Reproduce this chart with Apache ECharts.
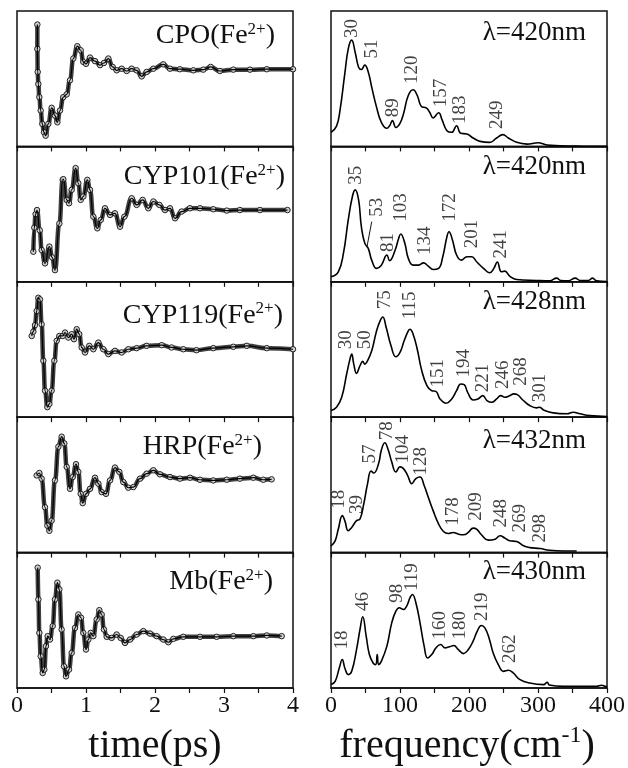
<!DOCTYPE html>
<html><head><meta charset="utf-8">
<script src="https://cdn.jsdelivr.net/npm/echarts@6/dist/echarts.min.js"></script>
<style>html,body{margin:0;padding:0;background:#fff}#c{width:628px;height:768px}</style>
</head><body><div id="c"></div><script>
// Coherent-oscillation traces (time in ps, normalised signal 0-100)
const cpoTrace = [[0.295,90],[0.295,72],[0.30,55],[0.309,46],[0.324,36.4],[0.343,26.5],[0.367,16.6],[0.391,10.4],[0.415,7.9],[0.454,16.6],[0.502,28.5],[0.55,22.8],[0.585,17.8],[0.623,26.5],[0.671,36.4],[0.72,38.4],[0.768,48.8],[0.816,64.9],[0.874,74],[0.923,71],[0.961,62.4],[1.0,61],[1.058,65.6],[1.13,63],[1.203,60],[1.26,61.6],[1.324,64.9],[1.386,58.7],[1.444,56.2],[1.517,57.4],[1.589,55.7],[1.662,57.4],[1.734,56.2],[1.807,51.7],[1.879,55],[1.976,57.4],[2.12,60.6],[2.217,57.4],[2.36,57],[2.556,56.2],[2.70,56.7],[2.807,58.7],[2.94,55.7],[3.135,56.7],[3.377,56.7],[3.62,57],[4.0,57]];
const cyp101Trace = [[0.237,22.2],[0.25,40],[0.27,50],[0.29,53],[0.33,38],[0.357,23.5],[0.406,13.6],[0.469,26],[0.51,18],[0.55,8.6],[0.614,43],[0.662,75.3],[0.671,75.8],[0.72,60.5],[0.754,58],[0.792,67.9],[0.85,84],[0.889,72.8],[0.923,60.5],[0.961,63],[1.019,75.3],[1.058,67.9],[1.106,48.1],[1.164,39.5],[1.213,45.7],[1.275,54.3],[1.348,49.4],[1.42,50.6],[1.493,40.7],[1.556,48.1],[1.662,61.7],[1.734,56.8],[1.821,60.5],[1.903,54.3],[1.976,59.3],[2.063,56.8],[2.145,53],[2.217,54.3],[2.29,46.9],[2.386,51.9],[2.507,54.3],[2.652,54.3],[2.845,53.6],[3.04,52.6],[3.23,53],[3.52,53],[3.92,53]];
const cyp119Trace = [[0.213,60],[0.237,63.2],[0.261,68],[0.285,78.4],[0.309,88.2],[0.333,87],[0.357,68.6],[0.382,41.7],[0.406,19.6],[0.44,7.4],[0.469,9.8],[0.502,19.6],[0.541,41.7],[0.575,56.4],[0.614,60],[0.662,60],[0.696,62.5],[0.744,58.8],[0.792,61.3],[0.826,57.6],[0.865,65],[0.903,61.3],[0.937,51.5],[0.986,47.8],[1.048,52.7],[1.106,50.2],[1.179,55.1],[1.251,50.2],[1.324,46.6],[1.42,49],[1.517,47.8],[1.614,50.2],[1.734,51],[1.879,52.7],[2.097,53.2],[2.24,51.5],[2.41,50.2],[2.60,49.5],[2.845,51],[3.135,52],[3.33,52.7],[3.62,51],[4.0,50.2]];
const hrpTrace = [[0.285,57],[0.324,58.8],[0.357,54.6],[0.406,33.5],[0.44,19.9],[0.469,16.1],[0.502,23.6],[0.55,53.3],[0.6,78.2],[0.647,85.6],[0.686,80.6],[0.72,63.3],[0.768,47.1],[0.807,55.8],[0.855,65.3],[0.889,59.6],[0.923,43.4],[0.952,36.5],[1.0,43.4],[1.058,47.1],[1.13,55.3],[1.179,50.9],[1.227,44.7],[1.29,43.4],[1.348,53.3],[1.42,62.8],[1.483,59.6],[1.541,52.1],[1.614,47.9],[1.686,48.4],[1.783,54.6],[1.879,58.3],[1.976,60.8],[2.072,57.8],[2.217,55.8],[2.36,54.6],[2.507,55.3],[2.652,53.8],[2.845,53.3],[3.04,53.8],[3.23,54.6],[3.425,55.3],[3.57,53.8],[3.69,54.1]];
const mbTrace = [[0.30,88.9],[0.31,65.4],[0.324,40.7],[0.343,23.5],[0.372,11.1],[0.396,13.6],[0.42,30.9],[0.444,38.3],[0.478,35.8],[0.517,45.7],[0.55,65.4],[0.585,77.8],[0.614,72.8],[0.647,43.2],[0.681,16],[0.71,8.6],[0.754,13.6],[0.792,25.9],[0.841,44.4],[0.889,54.3],[0.928,51.9],[0.961,40.7],[1.0,28.4],[1.034,35.8],[1.068,40.7],[1.106,38.3],[1.155,50.6],[1.193,57.5],[1.227,54.3],[1.26,43.2],[1.3,37.8],[1.372,37],[1.444,39.5],[1.502,37],[1.565,33.3],[1.638,35.8],[1.734,39.5],[1.831,42],[1.928,40.2],[2.024,38.3],[2.12,35.8],[2.193,33.8],[2.266,36.3],[2.41,37.8],[2.652,37.8],[2.894,37.8],[3.135,38.3],[3.425,38.3],[3.62,38.8],[3.836,38.3]];

// Fourier power spectra (frequency in cm-1, amplitude 0-100)
const cpoSpectrum = [[0,10.4],[8,15],[13,26.5],[20,53.7],[25,72],[30,78.5],[35,69.5],[40,58.5],[44,56.8],[49,60],[54,55],[59,43.8],[66,29],[73,17.8],[81,13.4],[85,15.3],[89,19],[94,14],[100,17],[105,24],[112,37.6],[119,41.8],[125,37.6],[131,29.5],[138,28.5],[143,25.2],[148,21],[156,24.8],[161,19.6],[168,11.6],[175,10.4],[182,15.3],[188,9.7],[197,9.2],[206,6.2],[216,3.7],[230,3],[240,6.2],[249,8.7],[257,6.2],[269,3],[284,1.7],[300,2.7],[313,1],[332,0.5],[356,0.2],[400,0]];
const cyp101Spectrum = [[0,3.7],[10.6,7.4],[18,21],[25,45.7],[31,63],[35,67.9],[40,60.5],[44,40.7],[49,28.4],[54,24.7],[59,16],[66,9.9],[73,12.3],[81,19.8],[85,15.6],[93,23.5],[98,32],[101,35.3],[107,28.4],[112,17.3],[119,12.3],[127,12.3],[134,14],[141,11.6],[148,9.1],[156,9.9],[162,18.5],[168,33.3],[171,37],[176,30.9],[182,19.8],[189,16],[197,18.5],[204,18.5],[211,14.8],[221,9.9],[230,6.7],[236,9.9],[241,14.6],[247,7.4],[252,7.9],[259,4.2],[269,1.7],[298,1],[317,0.7],[327,2.7],[333,1],[344,0.8],[354,2.7],[361,1],[373,1],[379,2.7],[385,0.7],[400,0.2]];
const cyp119Spectrum = [[0,4.9],[8,7.4],[15.5,14.7],[22.7,31.9],[27.5,42.9],[30,46.6],[33,39.2],[37,32.4],[42,38],[46,41.2],[49,39.2],[53,41.7],[59,49],[66,63.7],[71,71],[75,74],[80,66.2],[87,52.7],[94,44.6],[100,47.8],[106,56.4],[112,63.7],[114.5,65],[119,61.3],[125,50.2],[131,35.5],[139,23.3],[146,19.6],[152,19.1],[158,13.5],[167,10.3],[175,13.5],[182,19.6],[188,24.5],[193,24],[198,18.4],[206,12.7],[213,13.5],[220,15.9],[226,12.3],[233,11],[240,13.5],[246,15.9],[252,14.7],[259,15.9],[265,17.2],[270,16.7],[278,12.7],[288,8.6],[298,6.9],[302,7.4],[308,5.4],[322,3.2],[342,2.5],[351,3.7],[361,2.5],[375,1.2],[400,0.5]];
const hrpSpectrum = [[0,5],[6,8.7],[10.6,17.4],[16.4,27.3],[20,23.6],[25,16.1],[30,18.6],[37,23.6],[42,24.8],[47,34.7],[53,50.9],[58,60.3],[62,58.8],[69,65.8],[73,75.7],[78,81.1],[83,75.7],[88,67],[94,59.6],[100,63.3],[105,62],[111,57.1],[117,50.9],[123,54.6],[129,55.8],[135,49.6],[141,40.9],[148,31],[156,21.1],[163,15.6],[170,14.1],[177,14.9],[185,13.6],[192,13.2],[199,14.9],[206,18.1],[211,17.4],[218,13.2],[228,9.2],[238,9.9],[245,12.4],[252,10.7],[259,8.7],[269,8.2],[279,5],[288,3.7],[303,3],[317,1.7],[337,1.2],[356,1.2]];
const mbSpectrum = [[0,2.5],[6,4.9],[12,14.8],[16.4,21],[20,14.8],[25,9.9],[30,12.3],[37,28.4],[42,43.2],[46,52.6],[51,38.3],[55.6,24.7],[61,18.5],[64.7,17.3],[67,24.7],[69,17.3],[73,19.8],[81,30.9],[88,48.1],[94,56.8],[99,59.3],[105,58],[109.7,60.5],[114.5,66.7],[118,69.1],[123,63],[129,48.1],[135,30.9],[140,22.2],[146,24.7],[152,29.6],[159,32.1],[165,29.6],[171.5,30.4],[178,31.4],[184.5,28.4],[192,25.4],[199,28.4],[206,34.6],[212,42],[218,46.2],[223,44.4],[229,37],[235,25.9],[242.5,17.3],[250,12.3],[257,13.1],[264,11.1],[274,6.2],[288,3.7],[308,2.5],[313.5,4.2],[316.4,2.2],[337,1.2],[366,1.2],[385,1.2],[392,2],[397,1.2],[400,0.7]];

// Assigned mode frequencies (cm-1)
const cpoPeaks = [30,51,89,120,157,183,249];
const cyp101Peaks = [35,53,81,103,134,172,201,241];
const cyp119Peaks = [30,50,75,115,151,194,221,246,268,301];
const hrpPeaks = [18,39,57,78,104,128,178,209,248,269,298];
const mbPeaks = [18,46,98,119,160,180,219,262];

const sampleNames = ['CPO','CYP101','CYP119','HRP','Mb'];
const probeWavelengths = [420,420,428,432,430];

// Label placement: [horizontal shift in cm-1, height of label foot]
const cpoLabelPos = [[0,80],[8,65],[1,21.5],[-3,46],[3,29],[4,16.6],[-9,12.9]];
const cyp101LabelPos = [[1,71.6],[13,48],[2,22],[-1,44.4],[2,19.8],[0,44.4],[4,24.7],[6,17.3]];
const cyp119LabelPos = [[-8,50.2],[-1,50.2],[3,79.7],[0,72.3],[4,22],[-1,29.4],[0,18.4],[4,20.8],[8,23.3],[2,11]];
const hrpLabelPos = [[-7,32.3],[-2,28.5],[0,65.8],[3,83],[0,65.8],[3,57],[-1,19.9],[1,23.6],[-2,18.6],[5,14.9],[5,7.4]];
const mbLabelPos = [[-2,28.4],[1,56.8],[-3,63],[-2,71.6],[-2,35.8],[7,35.8],[0,49.4],[-3,18.5]];
const leaderPeaks = [[], [53], [], [], []];

const SERIF = '"Liberation Serif","Times New Roman",Times,serif';
const INK = '#111';

const traces = [cpoTrace, cyp101Trace, cyp119Trace, hrpTrace, mbTrace];
const spectra = [cpoSpectrum, cyp101Spectrum, cyp119Spectrum, hrpSpectrum, mbSpectrum];
const peaks = [cpoPeaks, cyp101Peaks, cyp119Peaks, hrpPeaks, mbPeaks];
const labelPos = [cpoLabelPos, cyp101LabelPos, cyp119LabelPos, hrpLabelPos, mbLabelPos];

const rowTop = 11, rowH = 135.4;
const leftX = 17, rightX = 331, plotW = 276;

function curveAt(curve, x) {
  for (let k = 1; k < curve.length; k++) {
    if (curve[k][0] >= x) {
      const a = curve[k-1], b = curve[k];
      return a[1] + (b[1]-a[1]) * (x-a[0]) / (b[0]-a[0]);
    }
  }
  return curve[curve.length-1][1];
}

const grid = [], xAxis = [], yAxis = [], series = [], graphic = [];
for (let i = 0; i < 5; i++) {
  const top = rowTop + i * rowH;
  const last = i === 4;
  [leftX, rightX].forEach((lx, side) => {
    grid.push({left: lx, top: top, width: plotW, height: rowH, show: true,
      borderColor: INK, borderWidth: 1.5, containLabel: false});
    const gi = grid.length - 1;
    xAxis.push({gridIndex: gi, type: 'value', min: 0, max: side ? 400 : 4,
      interval: side ? 50 : 0.5,
      axisLine: {lineStyle: {color: INK, width: 1.5}},
      axisTick: {inside: false, length: 5, lineStyle: {color: INK, width: 1.2}},
      axisLabel: {show: last, margin: 6, fontSize: 24, fontFamily: SERIF, color: INK,
        formatter: v => (side ? v % 100 === 0 : Number.isInteger(v)) ? String(v) : ''},
      splitLine: {show: false}});
    yAxis.push({gridIndex: gi, type: 'value', min: 0, max: 100, show: false});
  });
  const gL = 2*i, gR = 2*i + 1;
  // measured points with fit curve
  series.push({type: 'line', xAxisIndex: gL, yAxisIndex: gL, data: traces[i],
    smooth: 0.5, smoothMonotone: 'x', symbol: 'circle', symbolSize: 5.5, showSymbol: true,
    itemStyle: {color: '#cfcfcf', borderColor: '#222', borderWidth: 1},
    lineStyle: {color: '#404040', width: 4.5}, z: 2, silent: true, animation: false});
  series.push({type: 'line', xAxisIndex: gL, yAxisIndex: gL, data: traces[i],
    smooth: 0.5, smoothMonotone: 'x', symbol: 'none',
    lineStyle: {color: '#000', width: 1.2}, z: 3, silent: true, animation: false});
  // spectrum
  series.push({type: 'line', xAxisIndex: gR, yAxisIndex: gR, data: spectra[i],
    smooth: 0.45, symbol: 'none',
    lineStyle: {color: '#000', width: 1.6}, z: 3, silent: true, animation: false});
  // peak labels
  series.push({type: 'scatter', xAxisIndex: gR, yAxisIndex: gR,
    data: peaks[i].map((p, k) => [p + labelPos[i][k][0], labelPos[i][k][1], p]),
    symbolSize: 0, silent: true, animation: false, z: 4,
    label: {show: true, position: 'inside', rotate: 90, align: 'left', verticalAlign: 'middle',
      formatter: d => String(d.data[2]), fontSize: 19, fontFamily: SERIF, color: INK}});
  // leader lines from a displaced label to its band
  leaderPeaks[i].forEach(p => {
    const k = peaks[i].indexOf(p);
    const lp = labelPos[i][k];
    series.push({type: 'line', xAxisIndex: gR, yAxisIndex: gR, symbol: 'none',
      data: [[p + lp[0] - 7, lp[1] - 3.6], [p - 1, curveAt(spectra[i], p)]],
      lineStyle: {color: INK, width: 1}, silent: true, animation: false, z: 4});
  });
}

// sample and probe-wavelength annotations
const nameRight = [275, 285, 283, 262, 273];
const nameY = [36, 177, 315.5, 447, 582];
const lambdaY = [33, 167, 302, 440.5, 572];
for (let i = 0; i < 5; i++) {
  graphic.push({type: 'text', x: nameRight[i], y: nameY[i], silent: true,
    style: {text: '{m|' + sampleNames[i] + '(Fe}{s|2+}{m|)}', align: 'right', verticalAlign: 'middle',
      rich: {m: {fontSize: 28, fontFamily: SERIF, fill: INK, lineHeight: 30},
             s: {fontSize: 17, fontFamily: SERIF, fill: INK, verticalAlign: 'top', lineHeight: 30}}}});
  graphic.push({type: 'text', x: 586, y: lambdaY[i], silent: true,
    style: {text: 'λ=' + probeWavelengths[i] + 'nm', align: 'right', verticalAlign: 'middle',
      font: '27px ' + SERIF, fill: INK}});
}
// axis titles
graphic.push({type: 'text', x: 155, y: 746, silent: true,
  style: {text: 'time(ps)', align: 'center', verticalAlign: 'middle', font: '40px ' + SERIF, fill: INK}});
graphic.push({type: 'text', x: 467, y: 746, silent: true,
  style: {text: '{m|frequency(cm}{s|-1}{m|)}', align: 'center', verticalAlign: 'middle',
    rich: {m: {fontSize: 40, fontFamily: SERIF, fill: INK, lineHeight: 44},
           s: {fontSize: 24, fontFamily: SERIF, fill: INK, verticalAlign: 'top', lineHeight: 44}}}});

const chart = echarts.init(document.getElementById('c'), null, {renderer: 'canvas'});
chart.setOption({animation: false, backgroundColor: '#fff', grid, xAxis, yAxis, series, graphic});
</script></body></html>
